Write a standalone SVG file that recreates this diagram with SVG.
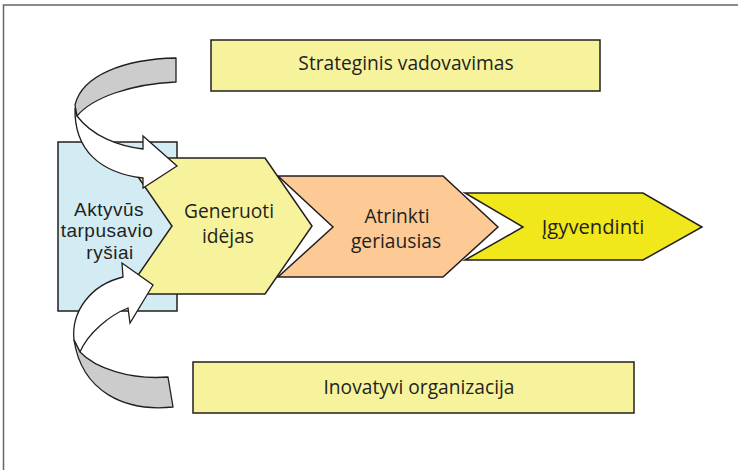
<svg xmlns="http://www.w3.org/2000/svg" width="738" height="470" viewBox="0 0 738 470">
  <style>
    .frame { fill: none; stroke: #666666; stroke-width: 1.5; }
    .box { stroke: #231f20; stroke-width: 1.5; }
    .pale { fill: #f7f39c; }
    .blue { fill: #d3ecf3; }
    .orange { fill: #fdc995; }
    .bright { fill: #f0e81a; }
    .band { fill: #cccccc; stroke: #231f20; stroke-width: 1.3; stroke-linejoin: round; }
    .arrow { fill: #ffffff; stroke: #231f20; stroke-width: 1.3; stroke-linejoin: miter; }
    text { font-family: "Open Sans", "Noto Sans", "Liberation Sans", sans-serif; fill: #231f20; text-anchor: middle; }
    .t19 { font-size: 19.2px; }
    .t20 { font-size: 20.2px; }
    .tight { font-family: "Liberation Sans", Arial, sans-serif; font-size: 19px; letter-spacing: 0.5px; }
  </style>

  <!-- page frame -->
  <rect class="frame" x="3.5" y="5" width="800" height="600"/>

  <!-- top banner -->
  <g id="strateginis">
    <rect class="box pale" x="211" y="40" width="389" height="51"/>
    <text class="t19" x="406" y="69.5">Strateginis vadovavimas</text>
  </g>

  <!-- bottom banner -->
  <g id="inovatyvi">
    <rect class="box pale" x="193" y="362" width="441" height="51"/>
    <text class="t19" x="419" y="393.5">Inovatyvi organizacija</text>
  </g>

  <!-- left panel -->
  <g id="aktyvus">
    <rect class="box blue" x="58" y="142" width="119" height="169"/>
    <text class="tight" x="109" y="215.5">Aktyvūs</text>
    <text class="tight" x="107" y="237">tarpusavio</text>
    <text class="tight" x="110" y="258.5">ryšiai</text>
  </g>

  <!-- process chevrons, drawn right to left so each overlaps the next -->
  <g id="igyvendinti">
    <polygon class="box bright" points="465,193 643,193 702,227 643,260 465,260 523,227"/>
    <text class="t20" x="593" y="234">Įgyvendinti</text>
  </g>

  <g id="atrinkti">
    <polygon class="box orange" points="278,176 443,176 498,227 443,277 278,277 333,227"/>
    <text class="t19"><tspan x="397" y="223">Atrinkti</tspan><tspan x="396" y="248">geriausias</tspan></text>
  </g>

  <g id="generuoti">
    <polygon class="box pale" points="125,158 265,158 312,226 265,294 125,294 172,226"/>
    <text class="t19"><tspan x="229" y="218">Generuoti</tspan><tspan x="228" y="243">idėjas</tspan></text>
  </g>

  <!-- curved feedback arrows -->
  <g id="connectors">
    <g id="arrow-top">
      <path class="arrow" d="M77,116 C92,136 118,146 143,149 L143,136 L177,166 L143,188 L143,178 C100,173 74,150 75,108 Z"/>
      <path class="band" d="M176,58 C125,59 82,75 75,105 L77,116 C92,98 130,84 176,82 Z"/>
    </g>
    <g id="arrow-bottom">
      <path class="arrow" d="M123,277 L122,263 L153,285 L130,323 L128,308 C110,315 88,333 80,352 L74,340 C71,312 90,285 123,277 Z"/>
      <path class="band" d="M80,352 C95,368 130,380 168,377 L173,407 C125,412 82,392 74,340 Z"/>
    </g>
  </g>
</svg>
